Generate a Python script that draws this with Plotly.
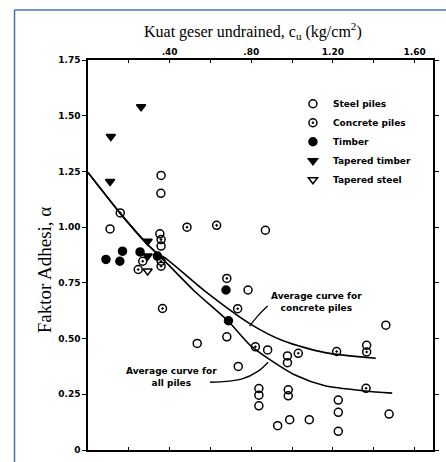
import plotly.graph_objects as go

# ---- data ----
steel_x = [0.358, 0.357, 0.108, 0.869, 0.352, 0.358, 0.535, 0.784, 0.680, 0.736, 0.880,
           0.977, 0.977, 0.837, 0.837, 0.837, 0.981, 0.981, 0.929, 0.988, 1.084, 1.365,
           1.459, 1.226, 1.226, 1.226, 1.475]
steel_y = [1.232, 1.152, 0.992, 0.986, 0.970, 0.915, 0.478, 0.718, 0.508, 0.375, 0.449,
           0.422, 0.392, 0.276, 0.246, 0.198, 0.270, 0.243, 0.109, 0.136, 0.136, 0.470,
           0.560, 0.224, 0.169, 0.084, 0.161]

concrete_x = [0.158, 0.485, 0.630, 0.246, 0.268, 0.358, 0.358, 0.358, 0.365, 0.680, 0.733,
              0.820, 1.030, 1.218, 1.365, 1.362]
concrete_y = [1.064, 1.000, 1.008, 0.810, 0.847, 0.825, 0.847, 0.944, 0.635, 0.770, 0.634,
              0.463, 0.434, 0.442, 0.440, 0.277]

timber_x = [0.088, 0.156, 0.169, 0.255, 0.340, 0.676, 0.688]
timber_y = [0.855, 0.847, 0.892, 0.889, 0.870, 0.718, 0.580]

tap_timber_x = [0.260, 0.112, 0.108, 0.292, 0.292]
tap_timber_y = [1.540, 1.407, 1.205, 0.937, 0.870]

tap_steel_x = [0.292]
tap_steel_y = [0.803]

# average curves
all_curve_x = [0.0, 0.156, 0.292, 0.348, 0.381, 0.525, 0.686, 0.798, 0.90, 1.017, 1.161, 1.36, 1.49]
all_curve_y = [1.245, 1.064, 0.922, 0.872, 0.843, 0.710, 0.579, 0.467, 0.400, 0.335, 0.288, 0.265, 0.255]

conc_curve_x = [0.0, 0.156, 0.292, 0.348, 0.381, 0.573, 0.798, 0.959, 1.161, 1.41]
conc_curve_y = [1.245, 1.064, 0.922, 0.877, 0.860, 0.713, 0.564, 0.489, 0.437, 0.412]

# leader lines of the curve labels
lead_all_x = [0.598, 0.752, 0.834, 0.882]
lead_all_y = [0.304, 0.318, 0.354, 0.394]
lead_conc_x = [0.880, 0.834, 0.792]
lead_conc_y = [0.646, 0.604, 0.556]

y_ticks = [0, 0.25, 0.5, 0.75, 1.0, 1.25, 1.5, 1.75]
y_tick_text = ["0", "0.25", "0.50", "0.75", "1.00", "1.25", "1.50", "1.75"]
x_ticks = [0.4, 0.8, 1.2, 1.6]
x_tick_text = [".40", ".80", "1.20", "1.60"]

labels = ["Steel piles", "Concrete piles", "Timber", "Tapered timber", "Tapered steel"]
x_title = "Kuat geser undrained, c<sub>u</sub> (kg/cm<sup>2</sup>)"
y_title = "Faktor Adhesi, α"

fig = go.Figure()

line_style = dict(color="black", width=1.6, shape="spline", smoothing=0.7)
fig.add_trace(go.Scatter(x=all_curve_x, y=all_curve_y, mode="lines", line=line_style,
                         showlegend=False, hoverinfo="skip"))
fig.add_trace(go.Scatter(x=conc_curve_x, y=conc_curve_y, mode="lines", line=line_style,
                         showlegend=False, hoverinfo="skip"))
fig.add_trace(go.Scatter(x=lead_all_x, y=lead_all_y, mode="lines", line=dict(color="black", width=1.3, shape="spline"),
                         showlegend=False, hoverinfo="skip"))
fig.add_trace(go.Scatter(x=lead_conc_x, y=lead_conc_y, mode="lines", line=dict(color="black", width=1.3, shape="spline"),
                         showlegend=False, hoverinfo="skip"))

mk = dict(size=8, color="black", line=dict(color="black", width=1.5))
fig.add_trace(go.Scatter(x=steel_x, y=steel_y, mode="markers", name=labels[0],
                         marker=dict(mk, symbol="circle-open")))
fig.add_trace(go.Scatter(x=concrete_x, y=concrete_y, mode="markers", name=labels[1],
                         marker=dict(mk, symbol="circle-open-dot")))
fig.add_trace(go.Scatter(x=timber_x, y=timber_y, mode="markers", name=labels[2],
                         marker=dict(mk, symbol="circle")))
fig.add_trace(go.Scatter(x=tap_timber_x, y=tap_timber_y, mode="markers", name=labels[3],
                         marker=dict(mk, symbol="triangle-down")))
fig.add_trace(go.Scatter(x=tap_steel_x, y=tap_steel_y, mode="markers", name=labels[4],
                         marker=dict(mk, symbol="triangle-down-open")))

tick_font = dict(family="DejaVu Sans", size=9, color="black", weight="bold")
note_font = dict(family="DejaVu Sans", size=9, color="black", weight="bold")

fig.update_layout(
    width=446, height=462,
    margin=dict(l=88, r=7, t=60, b=11),
    paper_bgcolor="white", plot_bgcolor="white",
    showlegend=True,
    legend=dict(x=0.594, y=0.925, xanchor="left", yanchor="top",
                font=note_font, bgcolor="rgba(0,0,0,0)", tracegroupgap=0, itemwidth=30),
    xaxis=dict(range=[0, 1.69], side="top", tickvals=x_ticks, ticktext=x_tick_text,
               tickfont=tick_font, showgrid=False, zeroline=False,
               showline=True, linecolor="black", linewidth=1.5, mirror="ticks",
               ticks="inside", ticklen=3, tickcolor="black",
               minor=dict(dtick=0.2, tick0=0, ticks="inside", ticklen=3, tickcolor="black")),
    yaxis=dict(range=[0, 1.75], tickvals=y_ticks, ticktext=y_tick_text,
               tickfont=tick_font, showgrid=False, zeroline=False,
               showline=True, linecolor="black", linewidth=1.5, mirror="ticks",
               ticks="outside", ticklen=4, tickcolor="black"),
    annotations=[
        dict(x=0.479, y=1.074, xref="paper", yref="paper", text=x_title, showarrow=False,
             font=dict(family="Liberation Serif", size=16, color="black"), yanchor="middle"),
        dict(x=-0.125, y=0.463, xref="paper", yref="paper", text=y_title, showarrow=False,
             textangle=-90, font=dict(family="Liberation Serif", size=19, color="black"),
             xanchor="center", yanchor="middle"),
        dict(x=1.118, y=0.662, xref="x", yref="y", text="Average curve for<br>concrete piles",
             showarrow=False, font=note_font, align="center"),
        dict(x=0.41, y=0.327, xref="x", yref="y", text="Average curve for<br>all piles",
             showarrow=False, font=note_font, align="center"),
    ],
    shapes=[
        dict(type="line", xref="paper", yref="paper", x0=-0.213, x1=1.1, y0=1.128, y1=1.128,
             line=dict(color="#4a6fb5", width=1.5)),
        dict(type="line", xref="paper", yref="paper", x0=-0.213, x1=-0.213, y0=-0.1, y1=1.128,
             line=dict(color="#4a6fb5", width=1.5)),
    ],
)

fig.write_html("out.html", config={"displayModeBar": False},
               post_script="document.body.style.margin='0';document.body.style.overflow='hidden';")
